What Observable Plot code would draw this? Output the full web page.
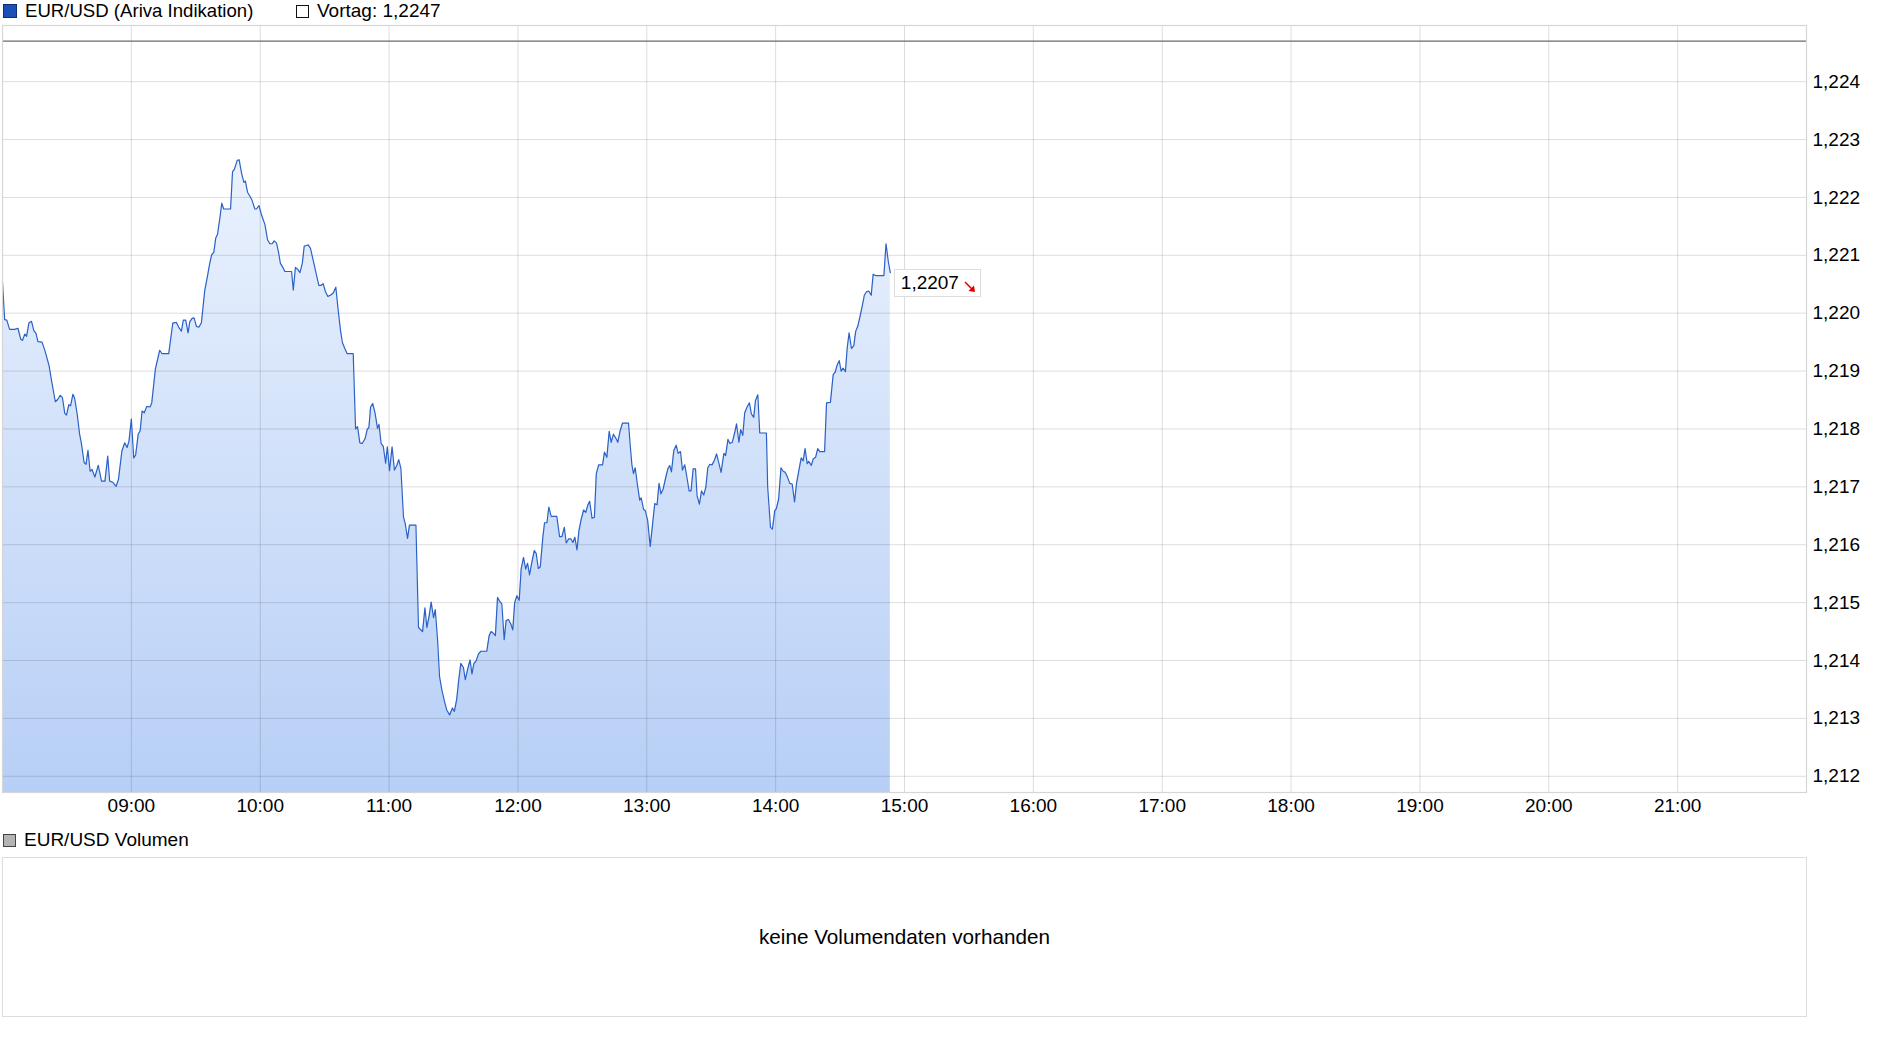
<!DOCTYPE html>
<html><head><meta charset="utf-8">
<script src="https://cdn.jsdelivr.net/npm/d3@7"></script>
<script src="https://cdn.jsdelivr.net/npm/@observablehq/plot@0.6"></script>
<style>
body{margin:0;background:#fff;font-family:"Liberation Sans",Arial,sans-serif;color:#000;}
#wrap{position:relative;width:1880px;height:1037px;overflow:hidden;background:#fff;}
#wrap svg{position:absolute;left:0;top:0;}
.leg{position:absolute;display:flex;align-items:center;font-size:19px;height:22px;line-height:22px;white-space:nowrap;}
.sq{box-sizing:border-box;width:14px;height:14px;margin-right:8px;}
#vol{position:absolute;left:2px;top:857px;width:1805px;height:160px;box-sizing:border-box;border:1.5px solid #dcdcdc;display:flex;align-items:center;justify-content:center;font-size:20.7px;}
#quote{position:absolute;box-sizing:border-box;height:28px;border:1px solid #dddddd;background:#fff;display:flex;align-items:center;font-size:19px;padding:0 4px 0 6px;white-space:nowrap;}
</style></head><body>
<div id="wrap">
  <div class="leg" style="left:3px;top:0px;font-size:18.6px"><div class="sq" style="background:#1c4fb8;border:1px solid #0e2f78"></div><span id="seriesName"></span></div>
  <div class="leg" style="left:296px;top:0px"><div class="sq" style="width:13px;height:13px;background:#fff;border:1px solid #111;margin-right:8px"></div><span id="vortagText"></span></div>
  <div class="leg" style="left:3px;top:829px"><div class="sq" style="width:13px;height:13px;background:#b4b4b4;border:1px solid #444"></div><span id="volName"></span></div>
  <div id="vol"></div>
</div>
<script>
// ---------- data ----------
const seriesName = "EUR/USD (Ariva Indikation)";
const volumeName = "EUR/USD Volumen";
const noVolumeText = "keine Volumendaten vorhanden";
const vortag = 1.2247;
const sessionStart = "08:00";
const sessionEnd = "22:00";
const hourTickLabels = ["09:00","10:00","11:00","12:00","13:00","14:00","15:00","16:00","17:00","18:00","19:00","20:00","21:00"];
const hourGrid = ["09:00","10:00","11:00","12:00","13:00","14:00","15:00","16:00","17:00","18:00","19:00","20:00","21:00","22:00"];
const yTicks = [1.212,1.213,1.214,1.215,1.216,1.217,1.218,1.219,1.220,1.221,1.222,1.223,1.224];
const yDomain = [1.21172, 1.22497];
// minutes after 08:00
const minutes = [
0,1,2,3.3,5.7,7.2,8.5,9.3,10.4,11.2,12.3,13.5,14.6,15.6,16.5,18.4,19.8,21.7,23,24.6,25.7,26.9,27.9,29,29.8,30.9,31.7,32.8,33.6,34.8,35.9,36.7,38,38.9,39.8,40.8,41.7,43,44.6,46.1,47.7,49,49.9,51.3,52.9,54,55.6,56.9,58,58.9,60,61.1,62,63.2,64.1,
65,66,67.2,68.7,69.5,70.1,71.2,73.2,74.3,77.4,79.3,81,82,83.3,84.2,85.3,86.4,87.2,88.3,89.2,90.3,91.4,92.6,94.2,95.4,96.5,97.4,98.4,99.3,100.1,101.2,102.1,103,106.2,107.1,108,109.3,110.2,111.3,112.4,113.1,114.1,115.2,116.2,117.5,118.3,119.4,120.6,122.2,123.4,124.5,125.6,126.5,127.6,128.5,129.4,130.4,131.5,134.6,135.4,136.4,137.4,138.5,
139.6,140.5,141.6,142.3,143.4,144.7,145.9,147.3,148.3,149.3,150.4,151.5,152.7,154,155.2,156.3,157.4,158.3,159.4,160.5,163.3,164.4,165.3,166.4,167.5,168.8,169.9,170.6,171.4,172.4,173.5,174.6,175.3,176.3,177.3,178.4,179.2,180.2,181.4,182.5,183.6,184.5,185.5,186.7,187.5,188.6,189.5,192.5,193.7,194.5,195.6,196.7,197.6,198.7,199.6,200.7,201.5,202.6,203.5,204.6,205.7,206.9,208.2,
209.5,210.4,211.5,212.3,213.4,214.6,215.5,216.6,217.7,218.6,219.5,220.5,221.6,222.7,225.5,226.6,227.5,228.6,229.5,230.5,231.4,232.5,233.6,234.5,235.6,236.7,237.6,238.5,239.5,240.6,241.5,242.6,243.6,244.5,245.4,246.5,247.6,248.5,249.5,250.4,251.6,252.4,253.5,254.4,255.5,258.1,259.4,260.5,261.6,262.5,263.6,264.7,265.6,266.5,267.5,268.4,269.4,270.6,271.6,272.5,273.4,274.5,275.6,276.5,277.6,
279.4,280.3,281.4,282.5,283.4,284.5,285.6,286.5,287.6,288.7,291.5,292.3,293.1,293.8,294.6,295.7,296.7,297.4,298.5,299.3,300.4,301.6,302.7,303.7,304.8,305.7,306.6,307.6,308.7,309.8,310.7,311.5,312.6,313.7,314.6,315.7,316.6,317.7,318.8,319.7,320.6,321.6,322.7,323.4,324.5,325.5,326.5,327.5,328.4,329.4,330.4,331.5,332.5,333.5,334.6,335.9,336.7,337.8,338.7,339.8,340.9,341.8,342.9,343.7,
344.7,345.6,346.7,347.8,348.7,349.8,350.6,351.7,352.6,355.7,356.3,356.8,357.6,358.5,359.6,360.3,361.4,362.5,363.5,364.5,365.6,366.6,367.7,368.8,369.7,370.8,371.9,372.8,373.7,374.7,375.4,376.6,377.5,378.6,379.6,380.6,382.8,383.7,385.5,386.8,387.7,388.6,389.6,390.5,391.4,392.5,393.3,394.2,395.3,396.4,397.3,398.2,399.2,400.3,401.3,402.3,403.4,404.5,405.4,406.5,410.4,411.4,412.5,413.4
];
const prices = [
1.22054,1.21989,1.21988,1.21972,1.21972,1.21974,1.21955,1.21953,1.21964,1.2196,1.21983,1.21986,1.2197,1.21965,1.21951,1.2195,1.21935,1.21909,1.2188,1.21847,1.21851,1.21858,1.21854,1.21827,1.21824,1.21842,1.2184,1.2186,1.21853,1.21825,1.21791,1.21776,1.21742,1.21739,1.21763,1.21727,1.2173,1.21717,1.21737,1.2171,1.2171,1.21753,1.2171,1.21708,1.21701,1.21713,1.21762,1.21776,1.21768,1.21779,1.21817,1.2175,1.21755,1.21791,1.21797,
1.21831,1.21828,1.21839,1.21838,1.21845,1.21866,1.21904,1.21936,1.2193,1.2193,1.21983,1.21984,1.21976,1.21969,1.21988,1.21988,1.21966,1.21985,1.21991,1.21992,1.21977,1.21976,1.21983,1.2204,1.22063,1.22086,1.22101,1.22105,1.2213,1.22136,1.22164,1.2219,1.2218,1.2218,1.22244,1.22249,1.22264,1.22265,1.22242,1.22226,1.22228,1.22209,1.22202,1.22195,1.2218,1.2218,1.22186,1.2217,1.22153,1.22127,1.2212,1.2212,1.22125,1.22121,1.22106,1.22086,1.2208,1.22072,1.22072,1.2204,1.22079,1.22076,1.2207,
1.22086,1.22116,1.22117,1.22118,1.22112,1.22091,1.22071,1.22048,1.22048,1.22051,1.22037,1.22029,1.22031,1.22035,1.22045,1.22005,1.2197,1.21949,1.21939,1.2193,1.2193,1.218,1.21804,1.21776,1.21775,1.21783,1.218,1.21802,1.21838,1.21844,1.21827,1.21801,1.21808,1.21775,1.2177,1.21741,1.21769,1.21728,1.21769,1.21729,1.21737,1.21747,1.21732,1.21648,1.21637,1.21611,1.21634,1.21634,1.21457,1.21454,1.2145,1.21491,1.21457,1.21478,1.21501,1.21474,1.21488,1.21435,1.21372,1.21349,1.21331,1.21314,1.21306,
1.21318,1.21312,1.21333,1.21362,1.21395,1.21388,1.21367,1.21385,1.21401,1.21377,1.21395,1.21399,1.21411,1.21416,1.21416,1.21443,1.2145,1.21447,1.21443,1.21509,1.21503,1.21498,1.21436,1.21469,1.21471,1.21463,1.21453,1.215,1.21512,1.21504,1.21558,1.21578,1.21558,1.21568,1.21548,1.2157,1.2159,1.21585,1.21559,1.21562,1.21613,1.21638,1.21638,1.21665,1.21649,1.21649,1.21614,1.21614,1.2163,1.21603,1.2161,1.2161,1.21604,1.21613,1.21591,1.21624,1.21643,1.2166,1.21656,1.21668,1.21675,1.21646,1.21647,1.21723,1.21738,
1.21738,1.2176,1.21751,1.21796,1.21777,1.21791,1.21784,1.21777,1.21797,1.2181,1.2181,1.21771,1.21737,1.21723,1.21733,1.21702,1.21677,1.21681,1.21661,1.21659,1.21642,1.21597,1.21636,1.21671,1.21669,1.21706,1.21688,1.21696,1.21714,1.21731,1.21737,1.21726,1.21763,1.21772,1.21758,1.21761,1.21729,1.21738,1.21714,1.21693,1.21693,1.21731,1.21731,1.21685,1.2167,1.21693,1.21686,1.21699,1.21733,1.21739,1.21738,1.21746,1.21757,1.21742,1.21725,1.21758,1.21754,1.21782,1.21775,1.21777,1.21793,1.21809,1.21777,1.21799,
1.21789,1.21828,1.21838,1.21845,1.21826,1.2182,1.21849,1.21859,1.21793,1.21793,1.21699,1.21673,1.2163,1.21627,1.21659,1.21662,1.21679,1.21733,1.21727,1.21725,1.21716,1.21706,1.21705,1.21674,1.21705,1.21728,1.2175,1.21745,1.21766,1.2174,1.21744,1.21737,1.21748,1.21751,1.21766,1.21761,1.21761,1.21845,1.21846,1.21894,1.21898,1.2191,1.21918,1.219,1.21905,1.21899,1.21939,1.21966,1.21939,1.21944,1.21969,1.21977,1.21993,1.22012,1.22031,1.22037,1.22038,1.22031,1.22067,1.22065,1.22065,1.2212,1.22088,1.2207
];

// ---------- build ----------
const parseT = d3.timeParse("%H:%M");
const t0 = parseT(sessionStart), t1 = parseT(sessionEnd);
const data = minutes.map((m, i) => ({t: new Date(+t0 + m * 60000), v: prices[i]}));
const hourTicks = hourTickLabels.map(parseT);
const hourGridDates = hourGrid.map(parseT);
const deFmt = (d, n) => d.toFixed(n).replace(".", ",");

document.getElementById("seriesName").textContent = seriesName;
document.getElementById("vortagText").textContent = "Vortag: " + deFmt(vortag, 4);
document.getElementById("volName").textContent = volumeName;
document.getElementById("vol").textContent = noVolumeText;

const W = 1880, H = 822, mT = 25, mB = 30, mL = 2, mR = 74;
const gradient = () => {
  const ns = "http://www.w3.org/2000/svg";
  const defs = document.createElementNS(ns, "defs");
  const g = document.createElementNS(ns, "linearGradient");
  g.setAttribute("id", "eurusdFill");
  g.setAttribute("gradientUnits", "userSpaceOnUse");
  g.setAttribute("x1", 0); g.setAttribute("x2", 0);
  g.setAttribute("y1", mT); g.setAttribute("y2", H - mB);
  [["0%", "#f5f9ff"], ["100%", "#b7cff6"]].forEach(([o, c]) => {
    const s = document.createElementNS(ns, "stop");
    s.setAttribute("offset", o); s.setAttribute("stop-color", c);
    g.appendChild(s);
  });
  defs.appendChild(g);
  return defs;
};

const plot = Plot.plot({
  width: W, height: H,
  marginTop: mT, marginBottom: mB, marginLeft: mL, marginRight: mR,
  style: {fontFamily: "'Liberation Sans', Arial, sans-serif", fontSize: "19px", color: "#000", background: "transparent", overflow: "visible"},
  x: {type: "time", domain: [t0, t1], ticks: hourTicks, tickFormat: d3.timeFormat("%H:%M"), tickSize: 0, tickPadding: 5.5, label: null},
  y: {domain: yDomain, ticks: yTicks, tickFormat: d => deFmt(d, 3), tickSize: 0, tickPadding: 6, label: null, axis: "right"},
  marks: [
    gradient,
    Plot.areaY(data, {x: "t", y1: yDomain[0], y2: "v", fill: "url(#eurusdFill)"}),
    Plot.ruleY(yTicks, {stroke: "#000", strokeOpacity: 0.135, strokeWidth: 1}),
    Plot.ruleX(hourGridDates, {stroke: "#000", strokeOpacity: 0.135, strokeWidth: 1}),
    Plot.ruleY([vortag], {stroke: "#6b6b6b", strokeWidth: 1.3}),
    Plot.line(data, {x: "t", y: "v", stroke: "#2b61c6", strokeWidth: 1.2}),
    Plot.frame({stroke: "#d6d6d6", strokeWidth: 1.2})
  ]
});
const wrap = document.getElementById("wrap");
wrap.insertBefore(plot, wrap.firstChild);

// last quote label
const last = data[data.length - 1];
const px = plot.scale("x").apply(last.t), py = plot.scale("y").apply(last.v);
const q = document.createElement("div");
q.id = "quote";
q.style.left = (px + 4) + "px";
q.style.top = (py - 3) + "px";
q.innerHTML = '<span>' + deFmt(last.v, 4) + '</span>' +
  '<svg width="12" height="12" style="position:static;margin-left:5px;margin-top:8px" viewBox="0 0 12 12">' +
  '<line x1="1" y1="1" x2="8" y2="8" stroke="#e00000" stroke-width="1.5"/>' +
  '<path d="M11 11 L4.5 10 L10 4.5 Z" fill="#e00000"/></svg>';
wrap.appendChild(q);
</script>
</body></html>
